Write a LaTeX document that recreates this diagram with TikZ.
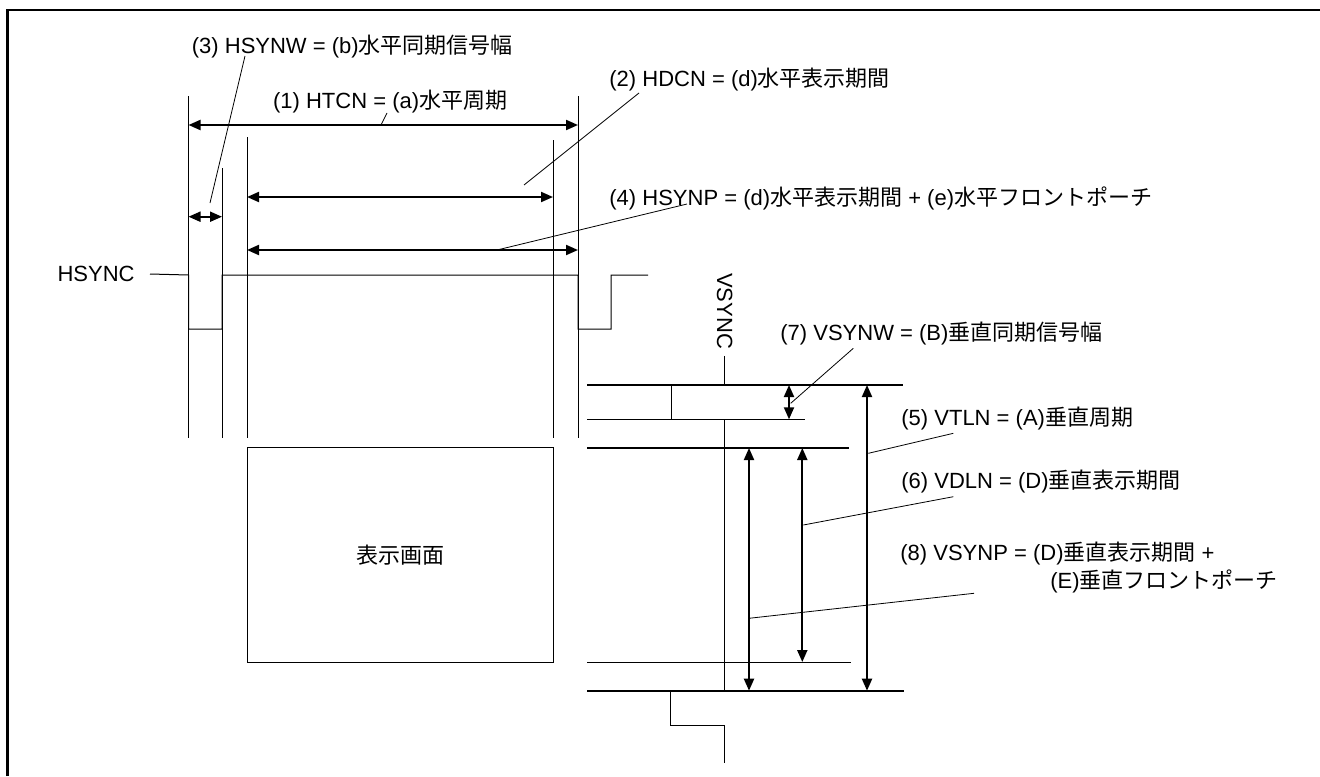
\documentclass[tikz,border=0pt]{standalone}
\usepackage{fontspec}
\setmainfont{Liberation Sans}
\newfontfamily\jpfont{Noto Sans CJK JP}
\newcommand{\jp}[1]{{\jpfont #1}}
\usepackage{tikz}
\usetikzlibrary{arrows.meta}
\usetikzlibrary{positioning}
\usetikzlibrary{calc}
\tikzstyle{txt}=[inner sep=0pt,anchor=west,font=\fontsize{11}{13}\selectfont]
\tikzstyle{dimarrow} = [draw,line width=1pt,{Triangle[length=6pt,width=5pt]}-{Triangle[length=6pt,width=5pt]}]
\tikzstyle{leaderline} = [draw,line width=0.4pt]
\tikzstyle{guideline} = [draw,line width=0.5pt]
\tikzstyle{sigline} = [draw,line width=0.5pt]
\tikzset{screenbox/.style={rectangle,draw,line width=0.5pt,minimum width=153pt,minimum height=107.4pt,inner sep=0pt,font=\fontsize{11}{13}\selectfont}}

\begin{document}
\begin{tikzpicture}[x=0.5pt,y=-0.5pt]

 \useasboundingbox (0,0) rectangle (1320,776);

 %frame
 \coordinate (fbl) at (7.5,776);
 \coordinate (ftl) at (7.5,10);
 \coordinate (ftr) at (1320,10);
 \draw[line width=1.2pt] (fbl) -- (ftl) -- (ftr);

 %H guide lines
 \foreach \x/\y/\name in {188.5/96/h1, 222/168/h2, 247/137/h3, 553/140/h4, 578/96/h5}
 {
   \coordinate (\name-t) at (\x,\y);
   \coordinate (\name-b) at (\x,438);
   \path[guideline] (\name-t) -- (\name-b);
 }

 %H arrows
 \foreach \xa/\xb/\y/\name in {188.5/578/125/a1, 247/553/197/a2, 188.5/222/216.7/a3, 247/578/250/a4}
 {
   \coordinate (\name-l) at (\xa,\y);
   \coordinate (\name-r) at (\xb,\y);
   \path[dimarrow] (\name-l) -- (\name-r);
 }

 %H labels
 \node[txt] (t3) at (191.5,47) {(3) HSYNW = (b)\jp{水平同期信号幅}};
 \node[txt] (t1) at (272.7,102) {(1) HTCN = (a)\jp{水平周期}};
 \node[txt] (t2) at (609,80) {(2) HDCN = (d)\jp{水平表示期間}};
 \node[txt] (t4) at (609,198) {(4) HSYNP = (d)\jp{水平表示期間} + (e)\jp{水平フロントポーチ}};

 \foreach \xa/\ya/\xb/\yb/\name in {381/125/387/113/k1, 524/185/639/93/k2, 210/203/245/56/k3, 497/250/687/204/k4}
 {
   \coordinate (\name-a) at (\xa,\ya);
   \coordinate (\name-b) at (\xb,\yb);
   \path[leaderline] (\name-a) -- (\name-b);
 }

 %HSYNC
 \node[txt,anchor=east] (hsync) at (135,274) {HSYNC};
 \draw[sigline] ([xshift=7.5pt]hsync.east) -- (h1-b |- 0,275) -- (h1-b |- 0,329) -- (h2-b |- 0,329)
   -- (h2-b |- 0,275) -- (h5-b |- 0,275) -- (h5-b |- 0,329) -- (611,329) -- (611,275) -- (648,275);

 %screen
 \node[screenbox] (screen) at (400,554.65) {\jp{表示画面}};

 %V lines
 \foreach \y/\xe/\w/\name in {385/903/0.8/l1, 419.3/805/0.5/l2, 448/849/0.8/l3, 662/851/0.5/l4, 690.7/904/0.8/l5}
 {
   \coordinate (\name-a) at (587,\y);
   \coordinate (\name-b) at (\xe,\y);
   \draw[line width=\w pt] (\name-a) -- (\name-b);
 }

 %VSYNC
 \node[txt,anchor=center,rotate=-90] (vsync) at (724.7,311) {VSYNC};
 \draw[sigline] ([yshift=-3.3pt]vsync.east) -- (724.7,385) -- (671.7,385) -- (671.7,419.3) -- (724.7,419.3)
   -- (724.7,690.7) -- (670.7,690.7) -- (670.7,725) -- (724.7,725) -- (724.7,762.7);

 %V arrows
 \foreach \x/\ya/\yb/\name in {789/385/419.3/a7, 867/385/690.7/a5, 802.3/448/662/a6, 749/448/690.7/a8}
 {
   \coordinate (\name-t) at (\x,\ya);
   \coordinate (\name-b) at (\x,\yb);
   \path[dimarrow] (\name-t) -- (\name-b);
 }

 %V labels
 \node[txt] (t7) at (780,333.3) {(7) VSYNW = (B)\jp{垂直同期信号幅}};
 \node[txt] (t5) at (901,418.3) {(5) VTLN = (A)\jp{垂直周期}};
 \node[txt] (t6) at (901,481.7) {(6) VDLN = (D)\jp{垂直表示期間}};
 \node[txt] (t8a) at (900,553.3) {(8) VSYNP = (D)\jp{垂直表示期間} +};
 \node[txt] (t8b) at (1050,581.7) {(E)\jp{垂直フロントポーチ}};

 \foreach \xa/\ya/\xb/\yb/\name in {790.7/403.3/853.3/348.3/k7, 868.3/453.3/953.3/433.3/k5, 803.3/525/953.3/496.7/k6, 749/618.3/974/593.3/k8}
 {
   \coordinate (\name-a) at (\xa,\ya);
   \coordinate (\name-b) at (\xb,\yb);
   \path[leaderline] (\name-a) -- (\name-b);
 }

\end{tikzpicture}
\end{document}
